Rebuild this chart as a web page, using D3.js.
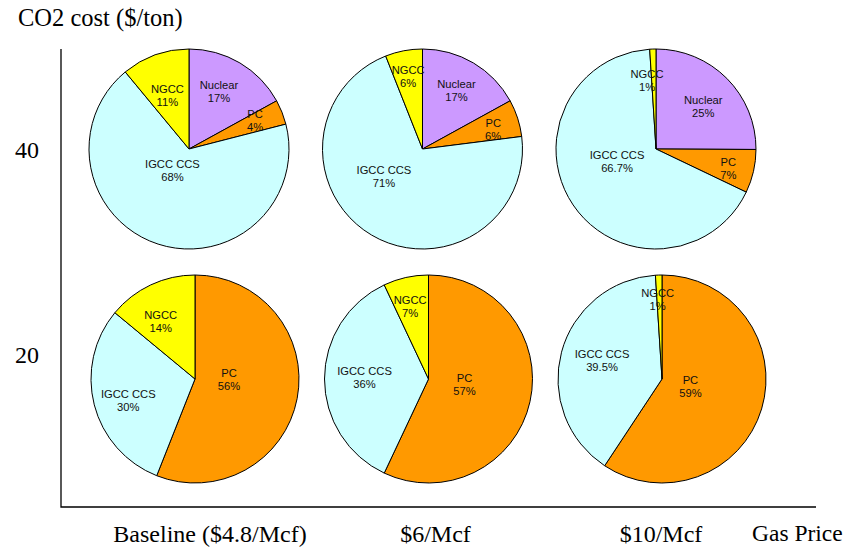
<!DOCTYPE html>
<html>
<head>
<meta charset="utf-8">
<script src="https://cdn.jsdelivr.net/npm/d3@7/dist/d3.min.js"></script>
<style>
  body { margin: 0; background: #fff; }
  svg { display: block; }
</style>
</head>
<body>
<svg id="chart" width="847" height="548"></svg>
<script>
// Technologies, in clockwise order from 12 o'clock
const technologies = ["Nuclear", "PC", "IGCC CCS", "NGCC"];
const gasPrices = ["Baseline ($4.8/Mcf)", "$6/Mcf", "$10/Mcf"];
const co2Costs = [40, 20];
const yTicks = [20, 40];

// Share of new capacity (%) by technology, one list per gas price
const share40 = [
  [17, 4, 68, 11],
  [17, 6, 71, 6],
  [25, 7, 66.7, 1]
];
const share20 = [
  [0, 56, 30, 14],
  [0, 57, 36, 7],
  [0, 59, 39.5, 1]
];

const techColors = ["#CC99FF", "#FF9900", "#CCFFFF", "#FFFF00"];

// Where each slice's label sits, relative to the pie centre (px)
const labelOffsets40 = [
  [[30, -57.5], [66, -28.8], [-16.6, 21.7], [-21.6, -53.5]],
  [[34, -59], [70.7, -20], [-38.6, 27.5], [-14.3, -73]],
  [[47.3, -42.8], [72.3, 19.5], [-39, 12], [-9, -69]]
];
const labelOffsets20 = [
  [null, [34, 0.8], [-66.7, 21.8], [-34.3, -57.7]],
  [null, [36, 5.9], [-64, -1.1], [-18.3, -72.8]],
  [null, [28.4, 7.7], [-60, -18.1], [-4.3, -79.1]]
];

const svg = d3.select("#chart");
const serif = "'Liberation Serif', 'Times New Roman', serif";
const sans = "'Liberation Sans', Arial, sans-serif";

// Frame of the chart
const axisLeft = 61, axisBottom = 507, axisTop = 49, axisRight = 816;

// Scales
const xPie = d3.scalePoint().domain(gasPrices).range([190, 657]);
const xLabel = d3.scalePoint().domain(gasPrices).range([210, 661]);
const yPie = d3.scalePoint().domain(co2Costs).range([149, 379]);
const yAxisScale = d3.scaleLinear().domain([20, 40]).range([355, 150]);
const radius = d3.scaleOrdinal().domain(co2Costs).range([100, 104]);
const rowShift = d3.scaleOrdinal().domain(co2Costs).range([-1, 5]);
const color = d3.scaleOrdinal().domain(technologies).range(techColors);

const fmt = v => (Number.isInteger(v) ? v : v.toFixed(1)) + "%";

const rows = [
  { co2: 40, shares: share40, offsets: labelOffsets40 },
  { co2: 20, shares: share20, offsets: labelOffsets20 }
];

const pie = d3.pie().sort(null).value(d => d.value);

rows.forEach(row => {
  gasPrices.forEach((gp, i) => {
    const cx = xPie(gp) + rowShift(row.co2);
    const cy = yPie(row.co2);
    const r = radius(row.co2);
    const data = technologies.map((t, k) => ({
      tech: t, value: row.shares[i][k], offset: row.offsets[i][k]
    }));
    const arcs = pie(data);
    const arc = d3.arc().innerRadius(0).outerRadius(r);
    const g = svg.append("g").attr("transform", `translate(${cx},${cy})`);

    g.selectAll("path")
      .data(arcs.filter(a => a.data.value > 0))
      .join("path")
      .attr("d", arc)
      .attr("fill", d => color(d.data.tech))
      .attr("stroke", "#000")
      .attr("stroke-width", 1)
      .attr("stroke-linejoin", "round");

    const labels = g.selectAll("text")
      .data(arcs.filter(a => a.data.value > 0))
      .join("text")
      .attr("text-anchor", "middle")
      .attr("font-family", sans)
      .attr("font-size", 11.2)
      .attr("fill", "#111")
      .attr("transform", d => `translate(${d.data.offset[0]},${d.data.offset[1]})`);
    labels.append("tspan").attr("x", 0).attr("y", -2.5).text(d => d.data.tech);
    labels.append("tspan").attr("x", 0).attr("y", 10.5).text(d => fmt(d.data.value));
  });
});

// Axes
svg.append("path")
  .attr("d", `M${axisLeft},${axisTop}V${axisBottom}H${axisRight}`)
  .attr("fill", "none")
  .attr("stroke", "#000")
  .attr("stroke-width", 1.3);

svg.selectAll("text.ytick")
  .data(yTicks)
  .join("text")
  .attr("class", "ytick")
  .attr("x", 39)
  .attr("y", d => yAxisScale(d))
  .attr("dy", "0.35em")
  .attr("text-anchor", "end")
  .attr("font-family", serif)
  .attr("font-size", 24)
  .text(d => d);

svg.selectAll("text.xcat")
  .data(gasPrices)
  .join("text")
  .attr("class", "xcat")
  .attr("x", d => xLabel(d))
  .attr("y", 542)
  .attr("text-anchor", "middle")
  .attr("font-family", serif)
  .attr("font-size", 24)
  .text(d => d);

svg.append("text")
  .attr("x", 752)
  .attr("y", 541)
  .attr("font-family", serif)
  .attr("font-size", 23.5)
  .text("Gas Price");

svg.append("text")
  .attr("x", 18)
  .attr("y", 26)
  .attr("font-family", serif)
  .attr("font-size", 24.5)
  .text("CO2 cost ($/ton)");
</script>
</body>
</html>
